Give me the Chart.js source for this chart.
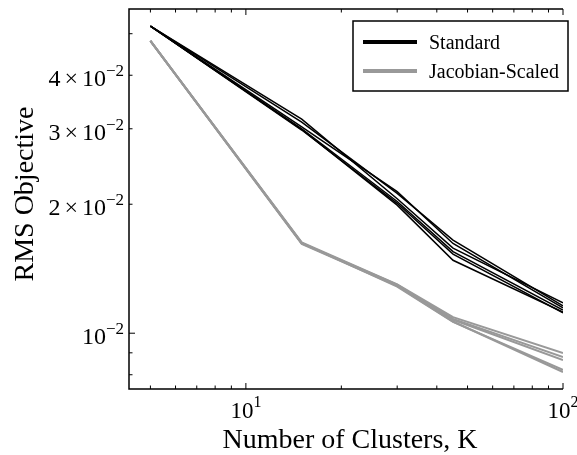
<!DOCTYPE html>
<html>
<head>
<meta charset="utf-8">
<script src="https://cdn.jsdelivr.net/npm/chart.js@4"></script>
<style>
  html, body { margin: 0; padding: 0; background: #fff; }
  #wrap { width: 577px; height: 455px; }
</style>
</head>
<body>
<div id="wrap"><canvas id="chart" width="577" height="455"></canvas></div>
<script>
// Number of clusters K (x values)
const clusters = [5, 15, 30, 45, 100];

// RMS objective, one array per run
const standardRuns = [
  [0.0521, 0.0316, 0.0206, 0.0158, 0.01177],
  [0.0521, 0.0311, 0.0212, 0.0165, 0.01158],
  [0.0521, 0.0303, 0.0214, 0.0162, 0.01146],
  [0.0521, 0.0300, 0.0203, 0.0155, 0.01133],
  [0.0521, 0.0299, 0.0199, 0.0148, 0.01121],
  [0.0521, 0.0298, 0.0201, 0.0153, 0.01115]
];
const scaledRuns = [
  [0.0481, 0.01630, 0.01300, 0.01090, 0.00899],
  [0.0481, 0.01620, 0.01295, 0.01080, 0.00880],
  [0.0481, 0.01622, 0.01298, 0.01075, 0.00866],
  [0.0481, 0.01625, 0.01285, 0.01063, 0.00821],
  [0.0481, 0.01615, 0.01290, 0.01065, 0.00812]
];

// tick labels
const xTicks = [10, 100];
const xTickExp = ['1', '2'];
const yTicks = [0.01, 0.02, 0.03, 0.04];
const yTickMant = ['', '2', '3', '4'];
const yTickExp = '\u22122';

const serif = '"Liberation Serif", "DejaVu Serif", serif';

document.addEventListener('DOMContentLoaded', () => {
  const toPoints = run => run.map((v, i) => ({ x: clusters[i], y: v }));
  const datasets = [];
  standardRuns.forEach(r => datasets.push({
    data: toPoints(r), borderColor: '#000', borderWidth: 1.5,
    pointRadius: 0, tension: 0, fill: false
  }));
  scaledRuns.forEach(r => datasets.push({
    data: toPoints(r), borderColor: '#999', borderWidth: 2,
    pointRadius: 0, tension: 0, fill: false
  }));

  //  frame, ticks, labels and legend in matplotlib style
  const frame = {
    id: 'frame',
    afterDraw(chart) {
      const { ctx, chartArea: a, scales: { x, y } } = chart;
      ctx.save();
      ctx.strokeStyle = '#000';
      ctx.fillStyle = '#000';

      ctx.lineWidth = 1.5;
      ctx.beginPath();
      ctx.moveTo(a.right, a.top);
      ctx.lineTo(a.left, a.top);
      ctx.lineTo(a.left, a.bottom);
      ctx.lineTo(a.right, a.bottom);
      ctx.stroke();

      const tick = (x0, y0, x1, y1) => {
        ctx.beginPath(); ctx.moveTo(x0, y0); ctx.lineTo(x1, y1); ctx.stroke();
      };
      ctx.lineWidth = 1;
      for (let d = 1; d <= 100; d *= 10) {
        for (let m = 1; m < 10; m++) {
          const v = d * m;
          if (v < x.min || v > x.max) continue;
          const px = x.getPixelForValue(v);
          const len = m === 1 ? 6 : 3.5;
          tick(px, a.top, px, a.top + len);
          tick(px, a.bottom, px, a.bottom - len);
        }
      }
      [0.001, 0.01].forEach(d => {
        for (let m = 1; m < 10; m++) {
          const v = d * m;
          if (v < y.min || v > y.max) continue;
          const py = y.getPixelForValue(v);
          tick(a.left, py, a.left + (m === 1 ? 6 : 3.5), py);
        }
      });

      // x tick labels
      ctx.textAlign = 'left';
      ctx.textBaseline = 'alphabetic';
      xTicks.forEach((v, i) => {
        const px = x.getPixelForValue(v);
        ctx.font = `23px ${serif}`;
        const wb = ctx.measureText('10').width;
        ctx.font = `16px ${serif}`;
        const ws = ctx.measureText(xTickExp[i]).width;
        const left = px - (wb + ws) / 2;
        ctx.font = `23px ${serif}`;
        ctx.fillText('10', left, a.bottom + 29);
        ctx.font = `16px ${serif}`;
        ctx.fillText(xTickExp[i], left + wb, a.bottom + 18);
      });

      // y tick labels
      ctx.textAlign = 'right';
      yTicks.forEach((v, i) => {
        const py = y.getPixelForValue(v);
        let r = a.left - 5;
        ctx.font = `17px ${serif}`;
        ctx.fillText(yTickExp, r, py + 1);
        r -= ctx.measureText(yTickExp).width;
        ctx.font = `24px ${serif}`;
        ctx.fillText('10', r, py + 11);
        r -= ctx.measureText('10').width;
        if (yTickMant[i]) {
          r -= 4;
          ctx.fillText('\u00d7', r, py + 11);
          r -= ctx.measureText('\u00d7').width + 4;
          ctx.fillText(yTickMant[i], r, py + 11);
        }
      });

      // axis titles
      ctx.font = `28px ${serif}`;
      ctx.textAlign = 'center';
      ctx.fillText('Number of Clusters, K', (a.left + a.right) / 2 + 4, 448);
      ctx.save();
      ctx.translate(33, 194);
      ctx.rotate(-Math.PI / 2);
      ctx.fillText('RMS Objective', 0, 0);
      ctx.restore();

      // legend
      ctx.fillStyle = '#fff';
      ctx.fillRect(353, 21, 215, 70);
      ctx.lineWidth = 1.5;
      ctx.strokeRect(353, 21, 215, 70);
      ctx.lineWidth = 4;
      ctx.strokeStyle = '#000';
      tick(363, 42, 417, 42);
      ctx.strokeStyle = '#999';
      tick(363, 71, 417, 71);
      ctx.fillStyle = '#000';
      ctx.font = `20px ${serif}`;
      ctx.textAlign = 'left';
      ctx.fillText('Standard', 429, 49);
      ctx.fillText('Jacobian-Scaled', 429, 78);
      ctx.restore();
    }
  };

  const ctx = document.getElementById('chart').getContext('2d');
  new Chart(ctx, {
    type: 'line',
    data: { datasets: datasets },
    options: {
      responsive: false,
      animation: false,
      devicePixelRatio: 1,
      layout: { padding: { left: 129, right: 14, top: 9, bottom: 66 } },
      scales: {
        x: { type: 'logarithmic', min: 4.28, max: 100, display: false },
        y: { type: 'logarithmic', min: 0.00741, max: 0.0571, display: false }
      },
      plugins: { legend: { display: false }, tooltip: { enabled: false } }
    },
    plugins: [frame]
  });
});
</script>
</body>
</html>
